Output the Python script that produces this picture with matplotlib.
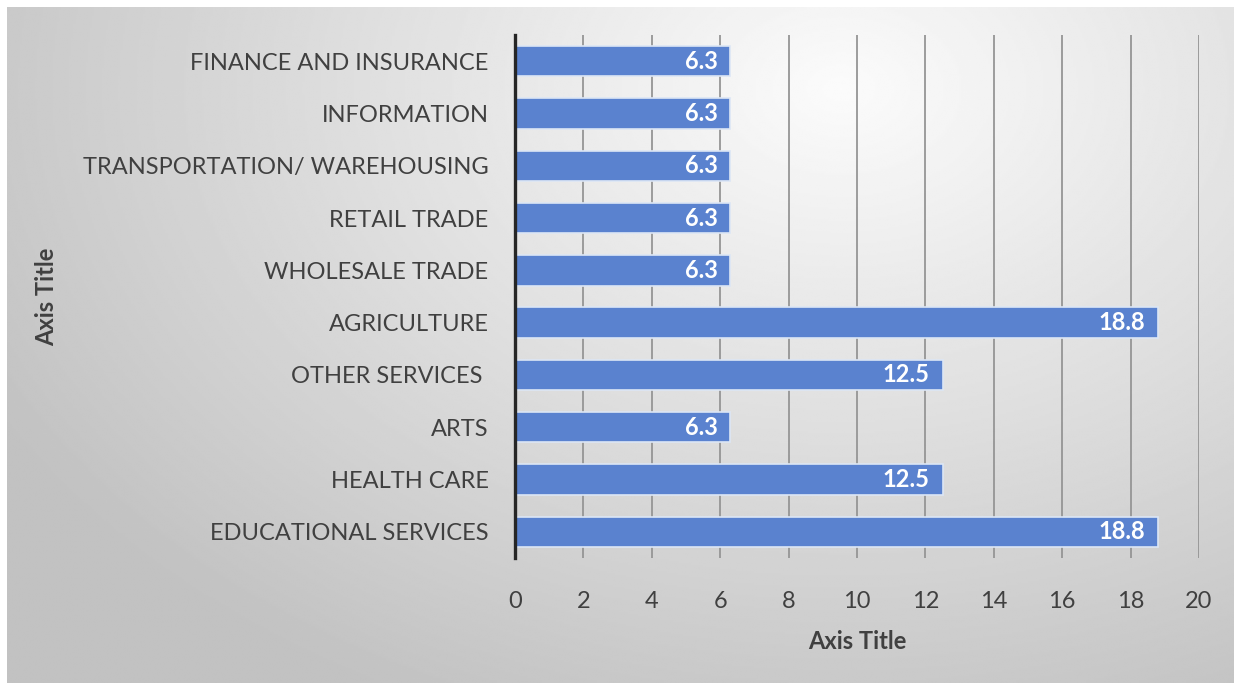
import numpy as np
import matplotlib
matplotlib.use("Agg")
import matplotlib.pyplot as plt

plt.rcParams['font.family'] = ['Lato', 'DejaVu Sans']

categories = ["EDUCATIONAL SERVICES", "HEALTH CARE", "ARTS", "OTHER SERVICES ",
              "AGRICULTURE", "WHOLESALE TRADE", "RETAIL TRADE",
              "TRANSPORTATION/ WAREHOUSING", "INFORMATION", "FINANCE AND INSURANCE"]
values = [18.8, 12.5, 6.3, 12.5, 18.8, 6.3, 6.3, 6.3, 6.3, 6.3]
x_ticks = [0, 2, 4, 6, 8, 10, 12, 14, 16, 18, 20]

text_col = "#404040"
bar_col = "#5A82CF"

fig = plt.figure(figsize=(12.34, 6.85), dpi=100)
fig.patch.set_facecolor("white")

# gray radial background of the chart area
bg = fig.add_axes([7/1234, 2/685, 1 - 7/1234, 1 - 9/685])
bg.set_axis_off()
gx, gy = np.meshgrid(np.linspace(0, 1, 600), np.linspace(0, 1, 340))
d = np.sqrt(((gx - 0.68) / 0.7) ** 2 + ((gy - 0.12) / 0.9) ** 2)
shade = np.clip(0.985 - 0.2 * d, 0.76, 0.985)
bg.imshow(shade, cmap="gray", vmin=0, vmax=1, aspect="auto",
          extent=[0, 1, 1, 0], interpolation="bilinear")
bg.set_xlim(0, 1)
bg.set_ylim(1, 0)

ax = fig.add_axes([515/1234, 1 - 558/685, (1199 - 515)/1234, (558 - 35)/685])
ax.patch.set_alpha(0)

y = np.arange(len(categories))
ax.barh(y, values, height=0.58, color=bar_col, edgecolor="#dce6f5",
        linewidth=1.2, zorder=3)

for yi, v in zip(y, values):
    ax.text(v - 0.38, yi, f"{v}", ha="right", va="center", color="white",
            fontsize=17, fontweight="bold", zorder=4)

ax.set_xlim(0, 20)
ax.set_ylim(-0.5, len(categories) - 0.5)
ax.set_xticks(x_ticks)
ax.set_xticklabels([str(t) for t in x_ticks])
ax.set_yticks(y)
ax.set_yticklabels(categories)

ax.grid(axis="x", color="#959595", linewidth=1.3, zorder=1)
ax.set_axisbelow(True)
for s in ["top", "right", "bottom"]:
    ax.spines[s].set_visible(False)
ax.spines["left"].set_color("#262626")
ax.spines["left"].set_linewidth(2.4)
ax.spines["left"].set_zorder(5)

ax.tick_params(axis="x", length=0, pad=24, labelsize=17, labelcolor=text_col)
ax.tick_params(axis="y", length=0, pad=19, labelsize=17, labelcolor=text_col)

ax.set_xlabel("Axis Title", fontsize=17, fontweight="bold", color=text_col,
              labelpad=13)
ax.set_ylabel("Axis Title", fontsize=17, fontweight="bold", color=text_col,
              labelpad=0)
ax.yaxis.set_label_coords(-0.668, 0.5)

fig.savefig("out.png", dpi=100)
